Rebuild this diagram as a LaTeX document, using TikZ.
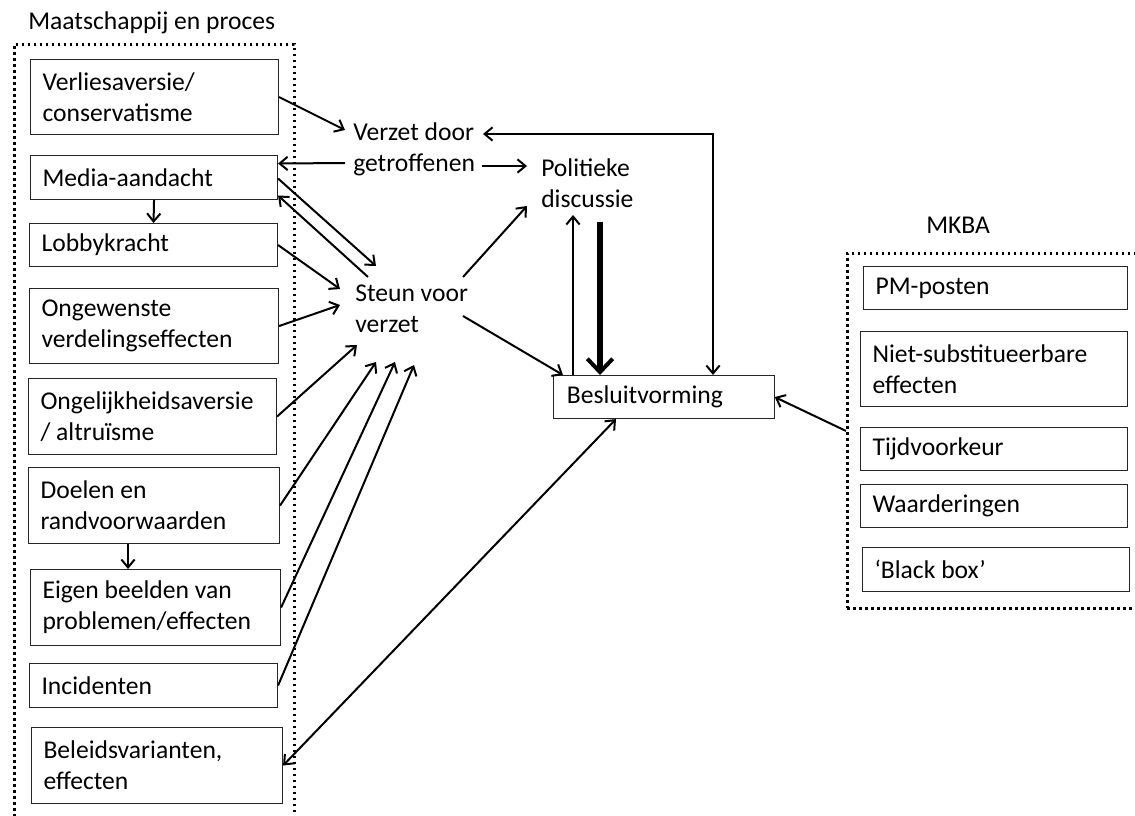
\documentclass[tikz,border=0pt]{standalone}
\usepackage{fontspec}
\setmainfont{Carlito}
\usetikzlibrary{arrows.meta,calc}
\begin{document}
\begin{tikzpicture}[x=0.75pt,y=-0.75pt,
  every node/.style={font={\fontsize{19.2pt}{23.3pt}\selectfont}},
  box/.style={draw=black!85, line width=0.8pt, rectangle, anchor=north west, inner xsep=9pt, inner ysep=0pt, align=flush left},
  lbl/.style={inner sep=0pt, anchor=base west, align=flush left},
  frame/.style={draw, line width=2.2pt, dash pattern=on 2.2pt off 2.3pt, anchor=north west, inner sep=0pt},
  arr/.style={line width=1.5pt, -{Straight Barb[length=6pt,width=10pt]}},
  arrb/.style={line width=1.5pt, {Straight Barb[length=6pt,width=10pt]}-{Straight Barb[length=6pt,width=10pt]}},
  bigarr/.style={line width=4.5pt, -{Straight Barb[length=10pt,width=19pt,line width=3pt]}}
]
\useasboundingbox (0,0) rectangle (1135,816);
\clip (0,0) rectangle (1135,816);
% frames
\node[frame, minimum width=210pt, minimum height=600pt] (mpframe) at (13,43) {};
\node[frame, minimum width=225pt, minimum height=266.25pt] (mkbaframe) at (846,252) {};
\node[lbl] (mptitle) at (28,30) {Maatschappij en proces};
\node[lbl] (mkbatitle) at (926,234) {MKBA};
% left boxes
\node[box, minimum width=186pt, minimum height=56.25pt, text width=168pt] (verlies) at (30,59) {Verliesaversie/\\conservatisme};
\node[box, minimum width=185.25pt, minimum height=33pt, text width=167.25pt] (media) at (30,155) {Media-aandacht};
\node[box, minimum width=186pt, minimum height=32.25pt, text width=168pt] (lobby) at (29,223) {Lobbykracht};
\node[box, minimum width=186.75pt, minimum height=56.25pt, text width=168.75pt] (ongew) at (29,288) {Ongewenste\\verdelingseffecten};
\node[box, minimum width=186pt, minimum height=57pt, text width=168pt] (ongelijk) at (28,378) {Ongelijkheidsaversie\\/ altruïsme};
\node[box, minimum width=188.25pt, minimum height=57pt, text width=170.25pt] (doelen) at (28,467) {Doelen en\\randvoorwaarden};
\node[box, minimum width=187.5pt, minimum height=57pt, text width=169.5pt] (eigen) at (30,569) {Eigen beelden van\\problemen/effecten};
\node[box, minimum width=186pt, minimum height=33pt, text width=168pt] (incid) at (29,663) {Incidenten};
\node[box, minimum width=188.25pt, minimum height=57pt, text width=170.25pt] (beleid) at (31,727) {Beleidsvarianten,\\effecten};
% right boxes
\node[box, minimum width=198pt, minimum height=32.25pt, text width=180pt] (pm) at (863,266) {PM-posten};
\node[box, minimum width=200.25pt, minimum height=56.25pt, text width=182.25pt] (niet) at (860,331) {Niet-substitueerbare\\effecten};
\node[box, minimum width=200.25pt, minimum height=32.25pt, text width=182.25pt] (tijd) at (860,427) {Tijdvoorkeur};
\node[box, minimum width=200.25pt, minimum height=32.25pt, text width=182.25pt] (waard) at (860,484) {Waarderingen};
\node[box, minimum width=200.25pt, minimum height=33pt, text width=182.25pt] (black) at (862,547) {‘Black box’};
% centre
\node[box, minimum width=163.5pt, minimum height=32.25pt, text width=145.5pt, inner xsep=10pt] (besluit) at (553,375) {Besluitvorming};
\node[lbl] (verzet) at (353,172) {Verzet door\\getroffenen};
\node[lbl] (polit) at (541,208) {Politieke\\discussie};
\node[lbl] (steun) at (355,333) {Steun voor\\verzet};
% connectors
\draw[arr] (media.south) -- (lobby.north);
\draw[arr] ($(doelen.south west)+(100,0)$) coordinate (dt) -- (dt |- eigen.north);
\draw[arr] (verlies.east) -- ($(verzet.base west)+(-8,-42)$);
\draw[arr] ($(verzet.base west)+(-8,-9)$) -- ($(media.east)+(0,-14)$);
\draw[arr] ($(verzet.base west)+(129,-6)$) -- ($(polit.base west)+(-14,-42)$);
\draw[arr] ($(media.east)+(0,1)$) -- ($(steun.base west)+(21,-67)$);
\draw[arr] ($(steun.base west)+(13,-56)$) -- ($(media.east)+(0,18)$);
\draw[arr] (lobby.east) -- ($(steun.base west)+(-15,-44)$);
\draw[arr] (ongew.east) -- ($(steun.base west)+(-15,-28)$);
\draw[arr] ($(steun.base west)+(108,-56)$) -- ($(polit.base west)+(-14,-2)$);
\draw[arr] ($(steun.base west)+(108,-17)$) -- ($(besluit.north west)+(10,0)$);
\draw[arr] (ongelijk.east) -- ($(steun.base west)+(2,12)$);
\draw[arr] (doelen.east) -- ($(steun.base west)+(21,29)$);
\draw[arr] (eigen.east) -- ($(steun.base west)+(40,29)$);
\draw[arr] (incid.east) -- ($(steun.base west)+(59,32)$);
\draw[arrb] (beleid.east) -- ($(besluit.south west)+(63,0)$);
\draw[arr] ($(besluit.north west)+(20,0)$) -- ($(polit.base west)+(32,7)$);
\draw[bigarr] ($(polit.base west)+(59,14)$) -- ($(besluit.north west)+(47,0)$);
\draw[arrb] ($(verzet.base west)+(130,-38)$) -| ($(besluit.north west)+(160,0)$);
\draw[arr] (mkbaframe.west) -- (besluit.east);
\end{tikzpicture}
\end{document}
